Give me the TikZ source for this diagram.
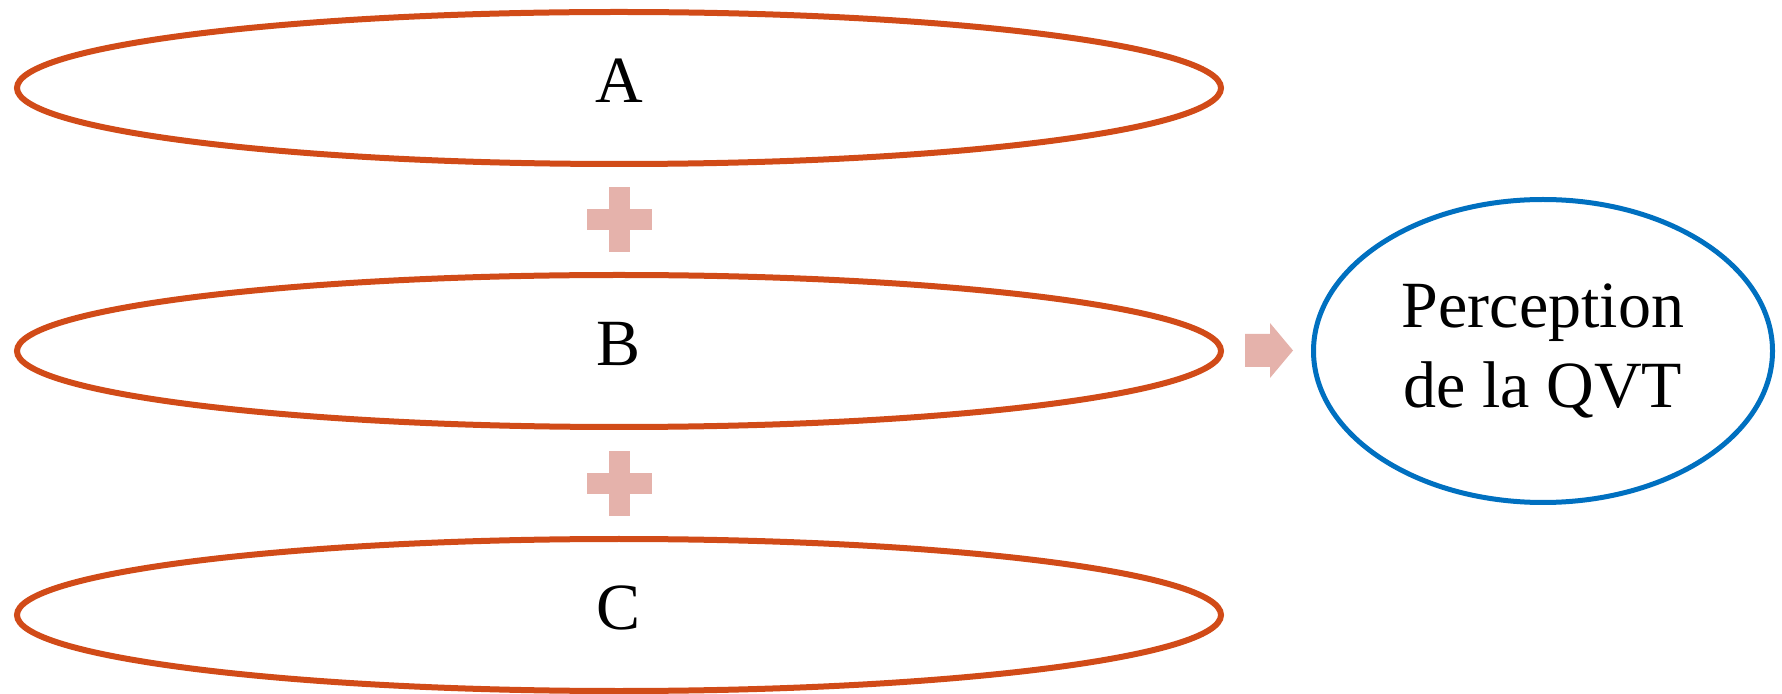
\documentclass[tikz,border=0pt]{standalone}
\usepackage{fontspec}
\setmainfont{Liberation Serif}
\usetikzlibrary{shapes.geometric}

\definecolor{qvtorange}{RGB}{209,75,24}
\definecolor{qvtpink}{RGB}{229,178,171}
\definecolor{qvtblue}{RGB}{0,112,192}

\tikzset{
  termbox/.style={ellipse, draw=qvtorange, line width=3pt, inner sep=0pt,
    minimum width=602pt, minimum height=76pt, text depth=7pt,
    font=\fontsize{33}{40}\selectfont},
  resultbox/.style={ellipse, draw=qvtblue, line width=2.5pt, inner sep=0pt,
    minimum width=229.5pt, minimum height=151.5pt, align=center,
    font=\fontsize{33}{40}\selectfont},
}

\begin{document}
\begin{tikzpicture}[x=0.5pt,y=0.5pt,yscale=-1,xscale=1]
\useasboundingbox (0,0) rectangle (1782,694);

% Ellipses
\node[termbox] (termA) at (619,88) {A};
\node[termbox] (termB) at (619,351) {B};
\node[termbox] (termC) at (619,615) {C};
\node[resultbox] (qvt) at (1543,351) {Perception\\de la QVT};

% Plus signs
\fill[qvtpink] (609,187) rectangle (630,252);
\fill[qvtpink] (587,209) rectangle (652,230);
\fill[qvtpink] (609,451) rectangle (630,516);
\fill[qvtpink] (587,473) rectangle (652,494);

% Arrow
\fill[qvtpink] (1245,334) -- (1270,334) -- (1270,323) -- (1293,350.5) -- (1270,378) -- (1270,367) -- (1245,367) -- cycle;

\end{tikzpicture}
\end{document}
